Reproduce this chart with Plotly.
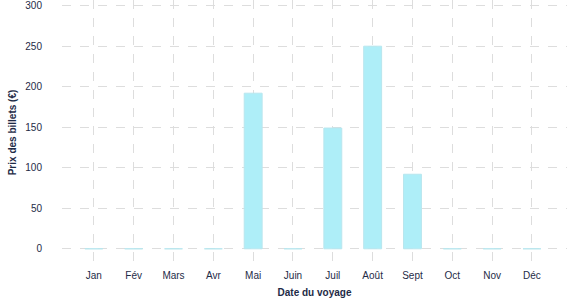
import plotly.graph_objects as go

months = ["Jan", "Fév", "Mars", "Avr", "Mai", "Juin", "Juil", "Août", "Sept", "Oct", "Nov", "Déc"]
prices = [0, 0, 0, 0, 192, 0, 149, 250, 92, 0, 0, 0]
y_ticks = [0, 50, 100, 150, 200, 250, 300]

text_color = "#1e2b47"
grid_color = "#dddddd"

fig = go.Figure(go.Bar(
    x=list(range(len(months))), y=prices, width=0.45,
    marker=dict(color="#aeeef8", line=dict(color="#b8e6ee", width=1)),
))
fig.update_layout(
    width=577, height=300, margin=dict(l=62, r=10, t=0, b=35),
    plot_bgcolor="white", paper_bgcolor="white",
    font=dict(family="Liberation Sans, Arial, sans-serif", size=10, color=text_color),
    showlegend=False,
)
fig.update_xaxes(
    tickmode="array", tickvals=list(range(len(months))), ticktext=months,
    range=[-0.8, 11.88], showgrid=True, gridcolor=grid_color, griddash="dash", gridwidth=1,
    zeroline=False, showline=False, ticks="", ticklabelstandoff=3,
    title=dict(text="<b>Date du voyage</b>", font=dict(size=10, color=text_color), standoff=8),
)
fig.update_yaxes(
    tickmode="array", tickvals=y_ticks, range=[-20, 307],
    showgrid=True, gridcolor=grid_color, griddash="dash", gridwidth=1,
    zeroline=False, showline=False, ticks="", ticklabelstandoff=19,
    title=dict(text="<b>Prix des billets (€)</b>", font=dict(size=10, color=text_color), standoff=6),
)
fig.write_html("out.html")
